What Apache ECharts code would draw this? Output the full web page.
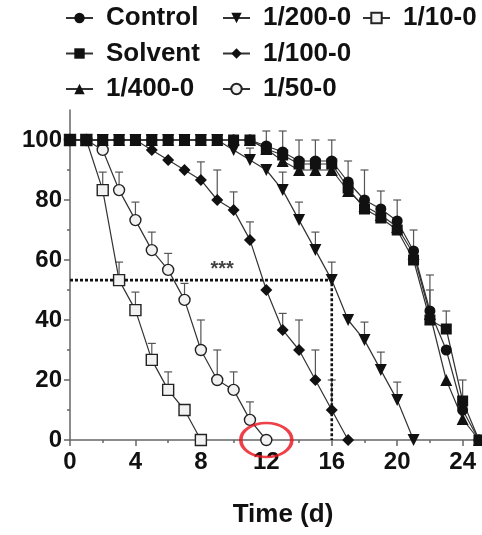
<!DOCTYPE html>
<html>
<head>
<meta charset="utf-8">
<script src="https://cdn.jsdelivr.net/npm/echarts@6/dist/echarts.min.js"></script>
<style>
  html, body { margin: 0; padding: 0; background: #fff; }
  #chart { width: 482px; height: 535px; }
</style>
</head>
<body>
<div id="chart"></div>
<script>
// Survival (%) over time (days) for each treatment group
const days = [0,1,2,3,4,5,6,7,8,9,10,11,12,13,14,15,16,17,18,19,20,21,22,23,24,25];

const control  = [100,100,100,100,100,100,100,100,100,100,100,100, 98, 96, 93, 93, 93, 86, 80, 77, 73, 63, 43, 30, 10, 0];
const solvent  = [100,100,100,100,100,100,100,100,100,100,100,100, 97, 95, 92, 92, 92, 84, 77, 74, 70, 60, 40, 37, 13, 0];
const d400     = [100,100,100,100,100,100,100,100,100,100,100,100, 97, 93, 90, 90, 90, 83, 78, 75, 71, 62, 42, 20, 7, 0];
const d200     = [100,100,100,100,100,100,100,100,100,100, 96.7, 93.3, 90, 83.3, 73.3, 63.3, 53.3, 40, 33.3, 23.3, 13.3, 0];
const d100     = [100,100,100,100,100, 96.7, 93.3, 90, 86.7, 80, 76.7, 66.7, 50, 36.7, 30, 20, 10, 0];
const d50      = [100,100, 96.7, 83.3, 73.3, 63.3, 56.7, 46.7, 30, 20, 16.7, 6.7, 0];
const d10      = [100,100, 83.3, 53.3, 43.3, 26.7, 16.7, 10, 0];

// Upper SD (one-sided error bars)
const controlErr = [0,0,0,0,0,0,0,0,0,0,0,0, 5, 7, 7, 7, 7, 7, 10, 6, 7, 7, 12, 0, 0, 0];
const solventErr = [0,0,0,0,0,0,0,0,0,0,0,0, 0, 0, 0, 0, 0, 0, 0, 0, 0, 0, 10, 6, 7, 0];
const d400Err    = [0,0,0,0,0,0,0,0,0,0,0,0, 0, 0, 0, 0, 0, 0, 0, 0, 0, 0, 0, 0, 0, 0];
const d200Err    = [0,0,0,0,0,0,0,0,0,0,0, 4, 0, 6, 6, 6, 6, 0, 6, 6, 6, 0];
const d100Err    = [0,0,0,0,0,0,0,0, 6, 10, 6, 6, 0, 5.5, 10, 10, 10, 0];
const d50Err     = [0,0, 3, 6, 6, 6, 5.5, 5.5, 10, 10, 6, 6, 0];
const d10Err     = [0,0, 6, 6, 6, 5.5, 6, 0, 0];

// Axis ticks
const xMajorTicks = [0,4,8,12,16,20,24];
const xMinorTicks = [2,6,10,14,18,22];
const yMajorTicks = [0,20,40,60,80,100];
const yMinorTicks = [10,30,50,70,90];

// LT50 guide (day, survival) and significance note
const guideDay = 16;
const guideLevel = 53.3;
const starNote = { day: 9.3, value: 57, text: '***' };
const circledPoint = [12, 0];

const FONT = '"Liberation Sans", Arial, Helvetica, sans-serif';
const INK = '#111';
const LINE = '#333';

function pairs(vals) { return vals.map((v, i) => [days[i], v]); }
function errPairs(vals, errs) {
  const out = [];
  vals.forEach((v, i) => { if (errs[i] > 0) out.push([days[i], v, errs[i]]); });
  return out;
}

// Listed in drawing order: later groups are painted on top
const groups = [
  { name: '1/10-0',   vals: d10,     errs: d10Err,     symbol: 'rect',     size: 11, open: true },
  { name: '1/50-0',   vals: d50,     errs: d50Err,     symbol: 'circle',   size: 11, open: true },
  { name: '1/100-0',  vals: d100,    errs: d100Err,    symbol: 'diamond',  size: 12, open: false },
  { name: '1/200-0',  vals: d200,    errs: d200Err,    symbol: 'triangle', size: 12, open: false, rotate: 180 },
  { name: '1/400-0',  vals: d400,    errs: d400Err,    symbol: 'triangle', size: 12, open: false },
  { name: 'Control',  vals: control, errs: controlErr, symbol: 'circle',   size: 11, open: false },
  { name: 'Solvent',  vals: solvent, errs: solventErr, symbol: 'rect',     size: 11, open: false }
];

function errorBarItem(params, api) {
  const x = api.value(0), v = api.value(1), e = api.value(2);
  const p0 = api.coord([x, v]);
  const p1 = api.coord([x, v + e]);
  const st = { stroke: '#555', lineWidth: 1.2 };
  return {
    type: 'group',
    children: [
      { type: 'line', shape: { x1: p0[0], y1: p0[1], x2: p1[0], y2: p1[1] }, style: st },
      { type: 'line', shape: { x1: p1[0] - 4, y1: p1[1], x2: p1[0] + 4, y2: p1[1] }, style: st }
    ]
  };
}

const series = [];

// Error bars sit underneath the markers
groups.forEach(g => {
  series.push({
    type: 'custom',
    renderItem: errorBarItem,
    data: errPairs(g.vals, g.errs),
    z: 1,
    silent: true,
    clip: false
  });
});

// Dotted LT50 guide
series.push({
  type: 'line',
  data: [[0, guideLevel], [guideDay, guideLevel], [guideDay, 0]],
  symbol: 'none',
  lineStyle: { color: INK, width: 2.6, type: [3, 2] },
  z: 2,
  silent: true
});

groups.forEach(g => {
  series.push({
    name: g.name,
    type: 'line',
    data: pairs(g.vals),
    symbol: g.symbol,
    symbolSize: g.size,
    symbolRotate: g.rotate || 0,
    showAllSymbol: true,
    clip: false,
    lineStyle: { color: LINE, width: 1.2 },
    itemStyle: g.open
      ? { color: '#f2f2f2', borderColor: '#222', borderWidth: 1.4 }
      : { color: INK, borderColor: INK, borderWidth: 0 },
    z: 3
  });
});

// Significance asterisks
series.push({
  type: 'scatter',
  data: [[starNote.day, starNote.value]],
  symbolSize: 0,
  silent: true,
  label: {
    show: true,
    position: 'inside',
    formatter: starNote.text,
    color: INK,
    fontFamily: FONT,
    fontWeight: 'bold',
    fontSize: 20
  },
  z: 4
});

// Red ring around the last 1/50-0 point
series.push({
  type: 'scatter',
  data: [circledPoint],
  symbol: 'circle',
  symbolSize: [51, 34],
  clip: false,
  silent: true,
  itemStyle: { color: 'rgba(0,0,0,0)', borderColor: '#e8101a', borderWidth: 3 },
  z: 5
});

const legendText = {
  fontFamily: FONT, fontWeight: 'bold', fontSize: 26, color: INK,
  lineHeight: 26, padding: [0, 0, 0, 8]
};
function legendCol(left, names) {
  return {
    orient: 'vertical', left: left, top: 5, padding: 0,
    itemWidth: 27, itemHeight: 13, itemGap: 9.5,
    data: names, textStyle: legendText, selectedMode: false
  };
}

const axisColor = '#666';
const tickLabel = { fontFamily: FONT, fontWeight: 'bold', fontSize: 24, color: INK };

const option = {
  animation: false,
  backgroundColor: '#fff',
  legend: [
    legendCol(65, ['Control', 'Solvent', '1/400-0']),
    legendCol(222, ['1/200-0', '1/100-0', '1/50-0']),
    legendCol(362, ['1/10-0'])
  ],
  grid: { left: 70, right: 3, top: 110, bottom: 95 },
  xAxis: [
    {
      type: 'value', min: 0, max: 25,
      axisLine: { lineStyle: { color: axisColor, width: 1.5 } },
      axisTick: { customValues: xMajorTicks, length: 6, lineStyle: { color: axisColor, width: 1.5 } },
      axisLabel: { customValues: xMajorTicks, margin: 10, ...tickLabel },
      splitLine: { show: false },
      name: 'Time (d)', nameLocation: 'middle', nameGap: 62,
      nameTextStyle: { fontFamily: FONT, fontWeight: 'bold', fontSize: 26, color: INK, padding: [0, 0, 0, 17] }
    },
    {
      type: 'value', min: 0, max: 25, position: 'bottom',
      axisLine: { show: false },
      axisTick: { customValues: xMinorTicks, length: 3, lineStyle: { color: axisColor, width: 1.5 } },
      axisLabel: { show: false },
      splitLine: { show: false }
    }
  ],
  yAxis: [
    {
      type: 'value', min: 0, max: 110,
      axisLine: { show: true, lineStyle: { color: axisColor, width: 1.5 } },
      axisTick: { show: true, customValues: yMajorTicks, length: 6, lineStyle: { color: axisColor, width: 1.5 } },
      axisLabel: { customValues: yMajorTicks, margin: 8, ...tickLabel },
      splitLine: { show: false }
    },
    {
      type: 'value', min: 0, max: 110, position: 'left',
      axisLine: { show: false },
      axisTick: { show: true, customValues: yMinorTicks, length: 3, lineStyle: { color: axisColor, width: 1.5 } },
      axisLabel: { show: false },
      splitLine: { show: false }
    }
  ],
  series: series
};

const chart = echarts.init(document.getElementById('chart'), null, { renderer: 'canvas' });
chart.setOption(option);
</script>
</body>
</html>
